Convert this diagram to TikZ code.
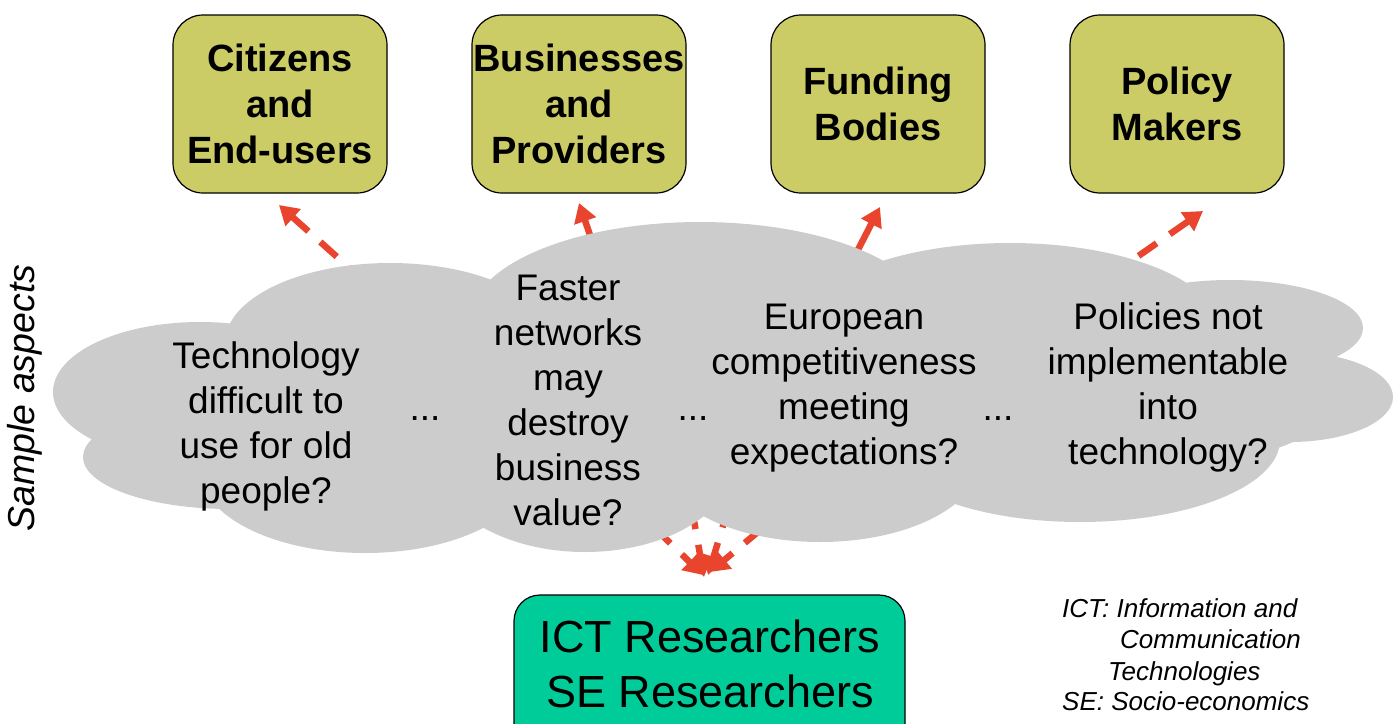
\documentclass[tikz,border=0pt]{standalone}
\usepackage{fontspec}
\setmainfont{Liberation Sans}
\usetikzlibrary{arrows.meta}
\definecolor{boxyellow}{RGB}{204,204,102}
\definecolor{boxgreen}{RGB}{0,204,153}
\definecolor{cloudgray}{RGB}{204,204,204}
\definecolor{arrowred}{RGB}{232,68,46}
\begin{document}
\begin{tikzpicture}[x=1pt,y=-1pt,
  stake/.style={draw=black, line width=1.2pt, fill=boxyellow, rounded corners=30pt,
    minimum width=214pt, minimum height=178pt, align=center, inner sep=0pt,
    font=\fontsize{38}{46}\selectfont\bfseries},
  resbox/.style={draw=black, line width=1.2pt, fill=boxgreen, rounded corners=26pt,
    minimum width=391pt, minimum height=170pt, inner sep=0pt},
  restext/.style={align=center, inner sep=0pt, font=\fontsize{45}{55}\selectfont},
  cloudtext/.style={align=center, inner sep=0pt, font=\fontsize{37}{45}\selectfont},
  notetext/.style={anchor=base west, inner sep=0pt, font=\fontsize{26}{31}\selectfont\itshape},
  redarrow/.style={draw=arrowred, line width=6.5pt, -{Triangle[length=19pt,width=22pt]}},
  reddash/.style={redarrow, dash pattern=on 22pt off 16pt}]
\useasboundingbox (0,0) rectangle (1399,723);
\clip (0,0) rectangle (1399,723);

% arrow end points
\coordinate (a1s) at (450,358); \coordinate (a1t) at (279,205);
\coordinate (a2s) at (601,267); \coordinate (a2t) at (579,203);
\coordinate (a3s) at (846,273); \coordinate (a3t) at (880,207);
\coordinate (a4s) at (1045,321); \coordinate (a4t) at (1203,211);
\coordinate (b1s) at (600,475); \coordinate (b1t) at (703,575);
\coordinate (b2s) at (685,470); \coordinate (b2t) at (704,577);
\coordinate (b3s) at (740,470); \coordinate (b3t) at (708,575);
\coordinate (b4s) at (820,480); \coordinate (b4t) at (710,572);

% arrows (behind the cloud)
\draw[reddash] (a1s) -- (a1t);
\draw[redarrow] (a2s) -- (a2t);
\draw[redarrow] (a3s) -- (a3t);
\draw[reddash] (a4s) -- (a4t);
\draw[reddash] (b1s) -- (b1t);
\draw[reddash] (b2s) -- (b2t);
\draw[reddash] (b3s) -- (b3t);
\draw[reddash] (b4s) -- (b4t);

% cloud
\fill[cloudgray]
  (720,400) ellipse [x radius=620pt, y radius=110pt]
  (200,392) ellipse [x radius=147pt, y radius=70pt]
  (230,457) ellipse [x radius=147pt, y radius=52pt]
  (365,470) ellipse [x radius=165pt, y radius=83pt]
  (585,460) ellipse [x radius=150pt, y radius=92pt]
  (820,460) ellipse [x radius=160pt, y radius=82pt]
  (1080,440) ellipse [x radius=200pt, y radius=82pt]
  (1290,397) ellipse [x radius=103pt, y radius=45pt]
  (1230,328) ellipse [x radius=133pt, y radius=48pt]
  (1010,330) ellipse [x radius=210pt, y radius=87pt]
  (700,320) ellipse [x radius=230pt, y radius=98pt]
  (390,343) ellipse [x radius=165pt, y radius=80pt];

% cloud texts
\node[cloudtext] (q1) at (266,426) {Technology\\difficult to\\use for old\\people?};
\node[cloudtext] (q2) at (568,400) {Faster\\networks\\may\\destroy\\business\\value?};
\node[cloudtext] (q3) at (844,388) {European\\competitiveness\\meeting\\expectations?};
\node[cloudtext] (q4) at (1168,387) {Policies not\\implementable\\into\\technology?};
\node[cloudtext, anchor=base] (d1) at (425,420) {...};
\node[cloudtext, anchor=base] (d2) at (693,420) {...};
\node[cloudtext, anchor=base] (d3) at (998,420) {...};

% stakeholder boxes
\node[stake] (cit) at (280,104) {Citizens\\and\\End-users};
\node[stake] (bus) at (579,104) {Businesses\\and\\Providers};
\node[stake] (fund) at (878,104) {Funding\\Bodies};
\node[stake] (pol) at (1177,104) {Policy\\Makers};

% researchers box
\node[resbox] (resbox) at (709.5,680) {};
\node[restext] (res) at (710,663.5) {ICT Researchers\\SE Researchers};

% side label
\node[rotate=90, inner sep=0pt, font=\fontsize{37.5}{40}\selectfont\itshape] (side) at (25,398) {Sample aspects};

% note
\node[notetext] (n1) at (1062,617) {ICT: Information and};
\node[notetext] (n2) at (1120,648) {Communication};
\node[notetext] (n3) at (1108,680) {Technologies};
\node[notetext] (n4) at (1062,710) {SE: Socio-economics};
\end{tikzpicture}
\end{document}
